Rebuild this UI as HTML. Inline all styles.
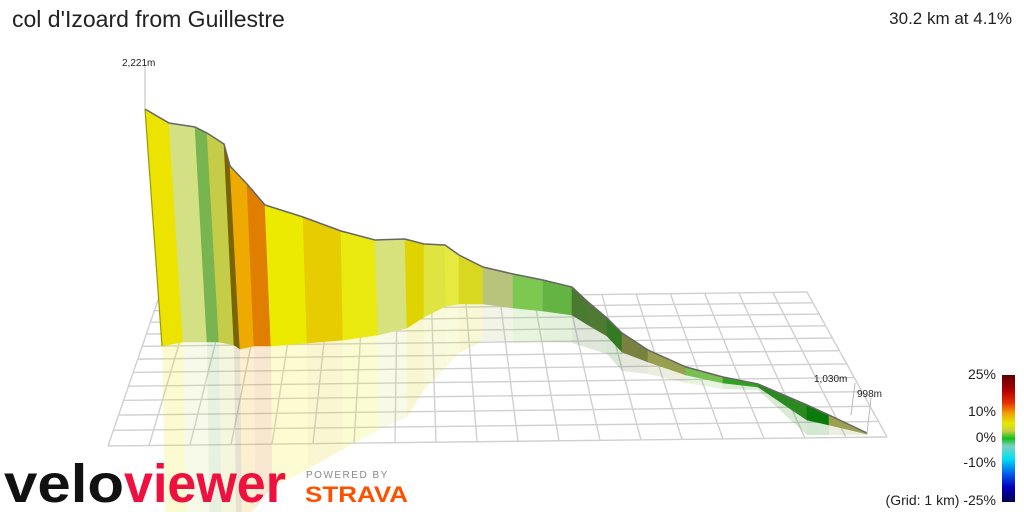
<!DOCTYPE html>
<html><head><meta charset="utf-8"><style>
html,body{margin:0;padding:0;background:#fff;overflow:hidden}
body{width:1024px;height:512px;overflow:hidden;position:relative;font-family:"Liberation Sans",sans-serif}
.t{position:absolute;white-space:nowrap;color:#222}
svg{overflow:hidden}
</style></head><body>
<svg id="s" width="1024" height="512" viewBox="0 0 1024 512" style="position:absolute;left:0;top:0">
<defs>
<linearGradient id="cb" x1="0" y1="0" x2="0" y2="1">
<stop offset="0" stop-color="#5a0000"/>
<stop offset="0.12" stop-color="#b00000"/>
<stop offset="0.22" stop-color="#e83000"/>
<stop offset="0.3" stop-color="#f0a000"/>
<stop offset="0.38" stop-color="#e8e800"/>
<stop offset="0.44" stop-color="#c8d040"/>
<stop offset="0.5" stop-color="#10c020"/>
<stop offset="0.56" stop-color="#80d0c0"/>
<stop offset="0.66" stop-color="#00e0f0"/>
<stop offset="0.76" stop-color="#0070f0"/>
<stop offset="0.88" stop-color="#0000c0"/>
<stop offset="1" stop-color="#000050"/>
</linearGradient>
</defs>
<g id="grid" stroke="#d0d0d0" stroke-width="1.4" fill="none"></g>
<g id="refl"></g>
<g id="wall"></g>
<g stroke="#bbb" stroke-width="1">
<line x1="145" y1="66" x2="145" y2="109"/>
<line x1="855" y1="383" x2="851" y2="415"/>
<line x1="871" y1="398" x2="867" y2="433"/>
</g>
<text x="122" y="66" font-size="10" fill="#222" font-family="Liberation Sans">2,221m</text>
<text x="814" y="382" font-size="10" fill="#222" font-family="Liberation Sans">1,030m</text>
<text x="857" y="397" font-size="10" fill="#222" font-family="Liberation Sans">998m</text>
<rect x="1002" y="375" width="13" height="127" fill="url(#cb)"/>
<text x="4" y="502" font-size="54" font-weight="bold" fill="#111" font-family="Liberation Sans" textLength="120" lengthAdjust="spacingAndGlyphs">velo</text>
<text x="124" y="502" font-size="54" font-weight="bold" fill="#ee1140" font-family="Liberation Sans" textLength="162" lengthAdjust="spacingAndGlyphs">viewer</text>
<text x="306" y="478" font-size="10" fill="#888" font-family="Liberation Sans" letter-spacing="1.5">POWERED BY</text>
<text x="305" y="502" font-size="22" font-weight="bold" fill="#fc5200" font-family="Liberation Sans" textLength="103" lengthAdjust="spacingAndGlyphs">STRAVA</text>
</svg>
<div class="t" style="left:12px;top:6px;font-size:23px">col d'Izoard from Guillestre</div>
<div class="t" style="right:12px;top:9px;font-size:17px">30.2 km at 4.1%</div>
<div class="t" style="right:28px;top:366px;font-size:14px">25%</div>
<div class="t" style="right:28px;top:403px;font-size:14px">10%</div>
<div class="t" style="right:28px;top:429px;font-size:14px">0%</div>
<div class="t" style="right:28px;top:454px;font-size:14px">-10%</div>
<div class="t" style="right:28px;top:492px;font-size:14px;line-height:16px">(Grid: 1 km) -25%</div>
<script>
var NS="http://www.w3.org/2000/svg";
function el(p,n,a){var e=document.createElementNS(NS,n);for(var k in a)e.setAttribute(k,a[k]);p.appendChild(e);return e;}
var g=document.getElementById('grid');
var TL=[158,300],TR=[807,292],BR=[887,437],BL=[108,446];
var C=19,R=11;
for(var i=0;i<=C;i++){var t=i/C;el(g,'line',{x1:TL[0]+(TR[0]-TL[0])*t,y1:TL[1]+(TR[1]-TL[1])*t,x2:BL[0]+(BR[0]-BL[0])*t,y2:BL[1]+(BR[1]-BL[1])*t});}
for(var j=0;j<=R;j++){var s=j/R;s=s*(0.8+0.2*s);el(g,'line',{x1:TL[0]+(BL[0]-TL[0])*s,y1:TL[1]+(BL[1]-TL[1])*s,x2:TR[0]+(BR[0]-TR[0])*s,y2:TR[1]+(BR[1]-TR[1])*s});}
var P=[[145,109,162,346],[169,123,183,342],[195,127,207,342],[207,133,219,342],[224,144,234,345],[230,166,240,349],[247,184,254,346],[265,205,271,346],[303,217,307,343],[341,231,343,340],[375,240,378,335],[405,239,407,328],[424,244,424,317],[445,245,446,306],[459,255,459,304],[483,267,483,304],[513,274,513,308],[543,280,543,311],[572,287,572,315],[588,302,588,325],[607,318,607,336],[622,333,622,352],[648,350,648,362],[686,367,686,375],[723,377,723,383],[758,384,758,387],[807,405,807,420],[829,415,829,425],[867,433,867,434]];
var col=["#ece400","#d4e084","#78b450","#c4cc48","#7a6400","#eeaa00","#e07e00","#ecea00","#e6cc00","#eaea10","#d8e27c","#e0d400","#e0e440","#e6ea40","#d8d820","#b8c47c","#7cc850","#64b444","#4a7a30","#4e7a34","#347a20","#7a8040","#98a050","#78c050","#30a020","#2a8a20","#0a7a0a","#9aa050"];
var rf=document.getElementById('refl'),w=document.getElementById('wall');
for(var k=0;k<col.length;k++){var a=P[k],b=P[k+1];
var ra=Math.min(520,a[3]+(a[3]-a[1])),rb=Math.min(520,b[3]+(b[3]-b[1]));
el(rf,'polygon',{points:[a[2],a[3],b[2],b[3],b[2]-(b[0]-b[2])*0.2,rb,a[2]-(a[0]-a[2])*0.2,ra].join(' '),fill:col[k],opacity:0.18});
el(w,'polygon',{points:[a[0],a[1],b[0],b[1],b[2],b[3],a[2],a[3]].join(' '),fill:col[k],stroke:col[k],'stroke-width':0.6});}
var pts=P.map(function(p){return p[0]+','+p[1]}).join(' ');
el(w,'polyline',{points:pts,fill:'none',stroke:'#666','stroke-width':1.5});
el(w,'line',{x1:145,y1:109,x2:162,y2:346,stroke:'#9a9a00','stroke-width':1.2});
</script>
</body></html>
